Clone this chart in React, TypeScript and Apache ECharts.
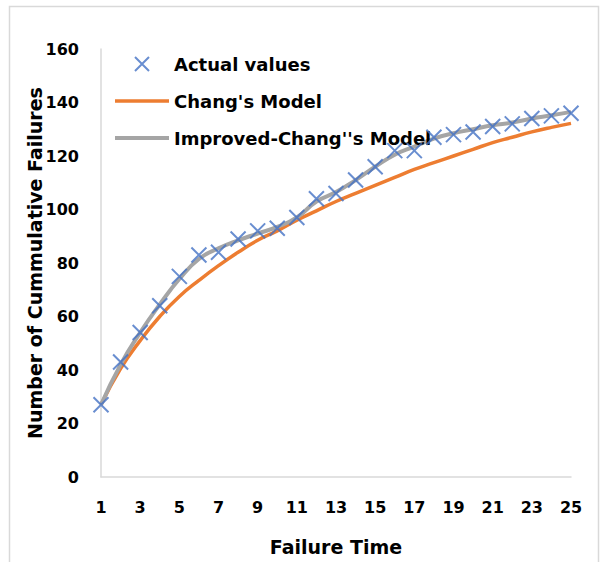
import React, { useEffect, useRef } from "react";
import * as echarts from "echarts";

const failureTimes = Array.from({ length: 25 }, (_, i) => String(i + 1));
const actualValues = [27, 43, 54, 64, 75, 83, 84, 89, 92, 93, 97, 104, 106, 111, 116, 122, 122, 127, 128, 129, 131, 132, 134, 135, 136];
const changModel = [27, 40.5, 51, 60, 67.5, 73.5, 79, 84, 88.5, 92, 96, 99.5, 103, 106, 109, 112, 115, 117.5, 120, 122.5, 125, 127, 129, 130.7, 132.2];
const improvedModel = [27, 42, 54, 64.5, 74, 81.5, 85.5, 88.5, 91, 93.5, 97, 103, 106.5, 111, 116, 120.5, 123.5, 126.5, 128.5, 130, 131.5, 132.5, 134, 135.2, 136.5];
const yTicks = { min: 0, max: 160, interval: 20 };

const FONT = "'DejaVu Sans', sans-serif";
const CROSS = "path://M0,0L10,10M10,0L0,10";

export default function App() {
  const ref = useRef<HTMLDivElement>(null);
  useEffect(() => {
    if (!ref.current) return;
    const chart = echarts.init(ref.current, null, { renderer: "svg" });
    chart.setOption({
      animation: false,
      backgroundColor: "#ffffff",
      graphic: [
        {
          type: "rect",
          shape: { x: 9.5, y: 6.5, width: 589, height: 600 },
          style: { fill: "none", stroke: "#D9D9D9", lineWidth: 1.5 },
          silent: true,
        },
      ],
      grid: { left: 101, right: 31, top: 49, bottom: 85 },
      legend: {
        orient: "vertical",
        left: 113,
        top: 52,
        padding: 0,
        itemWidth: 54,
        itemHeight: 14,
        itemGap: 13,
        textStyle: { fontFamily: FONT, fontWeight: "bold", fontSize: 18, lineHeight: 24, color: "#000" },
        data: [
          { name: "Actual values" },
          { name: "Chang's Model", itemStyle: { opacity: 0 }, lineStyle: { width: 3.5, color: "#ED7D31" } },
          { name: "Improved-Chang''s Model", itemStyle: { opacity: 0 }, lineStyle: { width: 4, color: "#A5A5A5" } },
        ],
      },
      xAxis: {
        type: "category",
        data: failureTimes,
        boundaryGap: false,
        name: "Failure Time",
        nameLocation: "middle",
        nameGap: 60,
        nameMoveOverlap: false,
        nameTextStyle: { fontFamily: FONT, fontWeight: "bold", fontSize: 19, color: "#000" },
        axisLine: { show: true, lineStyle: { color: "#D9D9D9", width: 1.5 } },
        axisTick: { show: false },
        axisLabel: {
          interval: 1,
          margin: 22,
          fontFamily: FONT,
          fontWeight: "bold",
          fontSize: 16,
          color: "#000",
        },
        splitLine: { show: false },
      },
      yAxis: {
        type: "value",
        min: yTicks.min,
        max: yTicks.max,
        interval: yTicks.interval,
        name: "Number of Cummulative Failures",
        nameLocation: "middle",
        nameGap: 57,
        nameMoveOverlap: false,
        nameTextStyle: { fontFamily: FONT, fontWeight: "bold", fontSize: 19, color: "#000" },
        axisLine: { show: true, lineStyle: { color: "#D9D9D9", width: 1.5 } },
        axisTick: { show: false },
        axisLabel: { margin: 22, fontFamily: FONT, fontWeight: "bold", fontSize: 16, color: "#000" },
        splitLine: { show: false },
      },
      series: [
        {
          name: "Chang's Model",
          type: "line",
          data: changModel,
          smooth: true,
          symbol: "none",
          lineStyle: { color: "#ED7D31", width: 3.5 },
          itemStyle: { color: "#ED7D31" },
          z: 2,
        },
        {
          name: "Improved-Chang''s Model",
          type: "line",
          data: improvedModel,
          smooth: true,
          symbol: "none",
          lineStyle: { color: "#A5A5A5", width: 4 },
          itemStyle: { color: "#A5A5A5" },
          z: 3,
        },
        {
          name: "Actual values",
          type: "scatter",
          data: actualValues,
          symbol: CROSS,
          symbolSize: 15,
          symbolKeepAspect: true,
          itemStyle: { color: "transparent", borderColor: "#4472C4", borderWidth: 2 },
          z: 4,
        },
      ],
    });
    return () => chart.dispose();
  }, []);
  return (
    <div
      ref={ref}
      style={{ position: "fixed", left: 0, top: 0, width: 602, height: 562 }}
    />
  );
}
